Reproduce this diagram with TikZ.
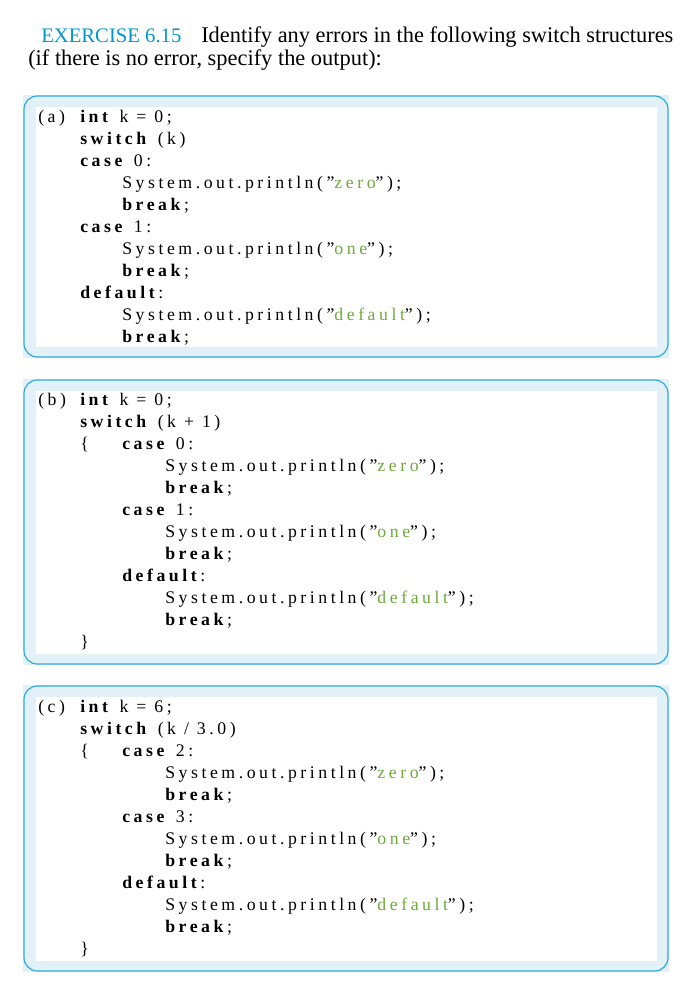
\documentclass[tikz,border=0pt]{standalone}
\usepackage{fontspec}
\setmainfont{Liberation Serif}
\newfontfamily\codefont[LetterSpace=20]{Liberation Serif}
\definecolor{exblue}{RGB}{0,150,210}
\definecolor{boxline}{RGB}{45,170,225}
\definecolor{boxfill}{RGB}{226,240,248}
\definecolor{strgreen}{RGB}{110,170,60}
\newcommand{\kw}[1]{\textbf{#1}}
\newcommand{\str}[1]{”\textcolor{strgreen}{#1}”}
\tikzset{code/.style={anchor=base west,inner sep=0pt,font=\codefont\fontsize{13.3}{15}\selectfont},
 hdr/.style={anchor=base west,inner sep=0pt,font=\fontsize{16.8}{19}\selectfont}}
\newcommand{\codebox}[3]{%
 \fill[boxfill] (23,#1) rectangle (669,#2);
 \fill[white] (36,#1+12) rectangle (657,#2-11);
 \draw[boxline,line width=0.9pt,rounded corners=10] (24,#1+1) rectangle (668,#2-1);
 \node[code] (#3) at (38,#1+27) {};}
\begin{document}
\begin{tikzpicture}[x=0.75pt,y=-0.75pt]
\useasboundingbox (0,0) rectangle (696,986);
\node[hdr,text=exblue,font=\fontsize{15.5}{19}\selectfont] (ex) at (41,42) {EXERCISE 6.15};
\node[hdr] (t1) at (201,42) {Identify any errors in the following switch structures};
\node[hdr] (t2) at (28,65) {(if there is no error, specify the output):};
% (a)
\codebox{95}{358}{ba}
\node[code] (a0) at (38,122) {(a)};
\node[code] (a1) at (80,122) {\kw{int} k = 0;};
\node[code] (a2) at (80,144) {\kw{switch} (k)};
\node[code] (a3) at (80,166) {\kw{case} 0:};
\node[code] (a4) at (122,188) {System.out.println(\str{zero});};
\node[code] (a5) at (122,210) {\kw{break};};
\node[code] (a6) at (80,232) {\kw{case} 1:};
\node[code] (a7) at (122,254) {System.out.println(\str{one});};
\node[code] (a8) at (122,276) {\kw{break};};
\node[code] (a9) at (80,298) {\kw{default}:};
\node[code] (a10) at (122,320) {System.out.println(\str{default});};
\node[code] (a11) at (122,342) {\kw{break};};
% (b)
\codebox{379}{665}{bb}
\node[code] (b0) at (38,405) {(b)};
\node[code] (b1) at (80,405) {\kw{int} k = 0;};
\node[code] (b2) at (80,427) {\kw{switch} (k + 1)};
\node[code] (b3) at (80,449) {\{};
\node[code] (b4) at (122,449) {\kw{case} 0:};
\node[code] (b5) at (165,471) {System.out.println(\str{zero});};
\node[code] (b6) at (165,493) {\kw{break};};
\node[code] (b7) at (122,515) {\kw{case} 1:};
\node[code] (b8) at (165,537) {System.out.println(\str{one});};
\node[code] (b9) at (165,559) {\kw{break};};
\node[code] (b10) at (122,581) {\kw{default}:};
\node[code] (b11) at (165,603) {System.out.println(\str{default});};
\node[code] (b12) at (165,625) {\kw{break};};
\node[code] (b13) at (80,647) {\}};
% (c)
\codebox{685}{972}{bc}
\node[code] (c0) at (38,712) {(c)};
\node[code] (c1) at (80,712) {\kw{int} k = 6;};
\node[code] (c2) at (80,734) {\kw{switch} (k / 3.0)};
\node[code] (c3) at (80,756) {\{};
\node[code] (c4) at (122,756) {\kw{case} 2:};
\node[code] (c5) at (165,778) {System.out.println(\str{zero});};
\node[code] (c6) at (165,800) {\kw{break};};
\node[code] (c7) at (122,822) {\kw{case} 3:};
\node[code] (c8) at (165,844) {System.out.println(\str{one});};
\node[code] (c9) at (165,866) {\kw{break};};
\node[code] (c10) at (122,888) {\kw{default}:};
\node[code] (c11) at (165,910) {System.out.println(\str{default});};
\node[code] (c12) at (165,932) {\kw{break};};
\node[code] (c13) at (80,954) {\}};
\end{tikzpicture}
\end{document}
